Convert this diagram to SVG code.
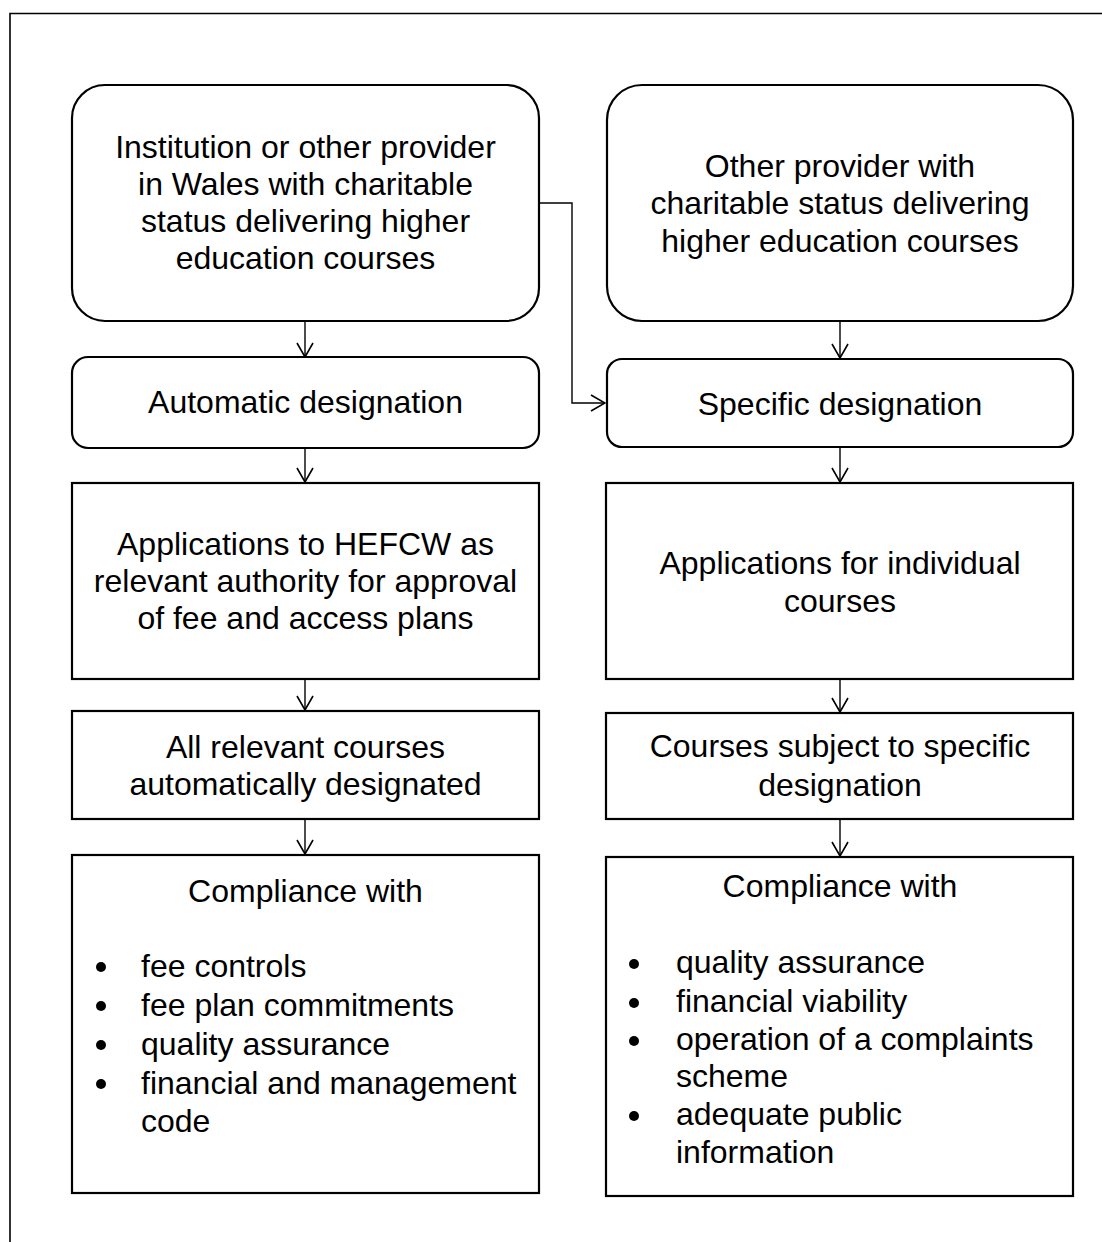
<svg xmlns="http://www.w3.org/2000/svg" width="1102" height="1242" viewBox="0 0 1102 1242">
  <style>
    .box { fill: #ffffff; stroke: #000000; stroke-width: 2.2; }
    .frame { fill: none; stroke: #000000; stroke-width: 1.6; }
    .link { fill: none; stroke: #000000; stroke-width: 1.4; }
    .t { font-family: "Liberation Sans", Arial, sans-serif; font-size: 32px; fill: #000000; }
    .c { text-anchor: middle; }
    .dot { fill: #000000; }
  </style>
  <defs>
    <marker id="arrow" viewBox="0 0 16 18" refX="15" refY="9" markerWidth="16" markerHeight="18" markerUnits="userSpaceOnUse" orient="auto">
      <path d="M1,1 L15,9 L1,17" fill="none" stroke="#000000" stroke-width="1.6"/>
    </marker>
  </defs>

  <rect width="1102" height="1242" fill="#ffffff"/>
  <!-- page frame (open on the right and bottom) -->
  <path class="frame" d="M10,1242 V13.5 H1102"/>

  <!-- connectors -->
  <g id="connectors">
    <path class="link" d="M305,321 V357" marker-end="url(#arrow)"/>
    <path class="link" d="M305,448 V482" marker-end="url(#arrow)"/>
    <path class="link" d="M305,679 V710" marker-end="url(#arrow)"/>
    <path class="link" d="M305,819 V854" marker-end="url(#arrow)"/>
    <path class="link" d="M539,203 H572 V403 H605" marker-end="url(#arrow)"/>
    <path class="link" d="M840,321 V358" marker-end="url(#arrow)"/>
    <path class="link" d="M840,447 V482" marker-end="url(#arrow)"/>
    <path class="link" d="M840,679 V712" marker-end="url(#arrow)"/>
    <path class="link" d="M840,819 V856" marker-end="url(#arrow)"/>
  </g>

  <!-- left column -->
  <g id="institution">
    <rect class="box" x="72" y="85" width="467" height="236" rx="33" ry="33"/>
    <text class="t c" x="305.5" y="158">Institution or other provider</text>
    <text class="t c" x="305.5" y="195">in Wales with charitable</text>
    <text class="t c" x="305.5" y="232">status delivering higher</text>
    <text class="t c" x="305.5" y="269">education courses</text>
  </g>
  <g id="automatic-designation">
    <rect class="box" x="72" y="357" width="467" height="91" rx="16" ry="16"/>
    <text class="t c" x="305.5" y="413">Automatic designation</text>
  </g>
  <g id="hefcw-applications">
    <rect class="box" x="72" y="483" width="467" height="196"/>
    <text class="t c" x="305.5" y="555">Applications to HEFCW as</text>
    <text class="t c" x="305.5" y="592">relevant authority for approval</text>
    <text class="t c" x="305.5" y="629">of fee and access plans</text>
  </g>
  <g id="all-courses">
    <rect class="box" x="72" y="711" width="467" height="108"/>
    <text class="t c" x="305.5" y="758">All relevant courses</text>
    <text class="t c" x="305.5" y="795">automatically designated</text>
  </g>
  <g id="automatic-compliance">
    <rect class="box" x="72" y="855" width="467" height="338"/>
    <text class="t c" x="305.5" y="902">Compliance with</text>
    <circle class="dot" cx="101" cy="967" r="5"/>
    <circle class="dot" cx="101" cy="1006" r="5"/>
    <circle class="dot" cx="101" cy="1045" r="5"/>
    <circle class="dot" cx="101" cy="1084" r="5"/>
    <text class="t" x="141" y="977">fee controls</text>
    <text class="t" x="141" y="1016">fee plan commitments</text>
    <text class="t" x="141" y="1055">quality assurance</text>
    <text class="t" x="141" y="1094">financial and management</text>
    <text class="t" x="141" y="1132">code</text>
  </g>

  <!-- right column -->
  <g id="other-provider">
    <rect class="box" x="607" y="85" width="466" height="236" rx="35" ry="35"/>
    <text class="t c" x="840" y="177">Other provider with</text>
    <text class="t c" x="840" y="214">charitable status delivering</text>
    <text class="t c" x="840" y="252">higher education courses</text>
  </g>
  <g id="specific-designation">
    <rect class="box" x="607" y="359" width="466" height="88" rx="15" ry="15"/>
    <text class="t c" x="840" y="415">Specific designation</text>
  </g>
  <g id="course-applications">
    <rect class="box" x="606" y="483" width="467" height="196"/>
    <text class="t c" x="840" y="574">Applications for individual</text>
    <text class="t c" x="840" y="612">courses</text>
  </g>
  <g id="specific-courses">
    <rect class="box" x="606" y="713" width="467" height="106"/>
    <text class="t c" x="840" y="757">Courses subject to specific</text>
    <text class="t c" x="840" y="796">designation</text>
  </g>
  <g id="specific-compliance">
    <rect class="box" x="606" y="857" width="467" height="339"/>
    <text class="t c" x="840" y="897">Compliance with</text>
    <circle class="dot" cx="634" cy="964" r="5"/>
    <circle class="dot" cx="634" cy="1003" r="5"/>
    <circle class="dot" cx="634" cy="1041" r="5"/>
    <circle class="dot" cx="634" cy="1116" r="5"/>
    <text class="t" x="676" y="973">quality assurance</text>
    <text class="t" x="676" y="1012">financial viability</text>
    <text class="t" x="676" y="1050">operation of a complaints</text>
    <text class="t" x="676" y="1087">scheme</text>
    <text class="t" x="676" y="1125">adequate public</text>
    <text class="t" x="676" y="1163">information</text>
  </g>
</svg>
